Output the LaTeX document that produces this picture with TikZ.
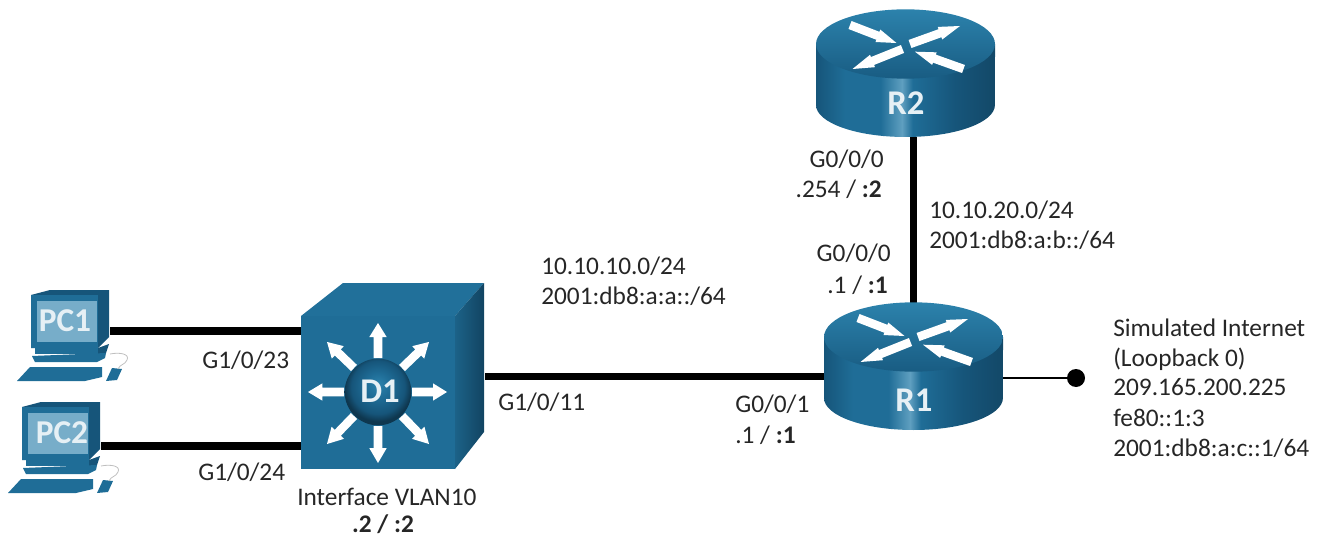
\documentclass[tikz,border=0pt]{standalone}
\usepackage{fontspec}
\setmainfont{Carlito}
\usetikzlibrary{calc}
\definecolor{devdark}{HTML}{16557A}
\definecolor{devmid}{HTML}{1F6D97}
\definecolor{devlite}{HTML}{2C82AC}
\definecolor{devhi}{HTML}{5F9FC0}
\definecolor{txt}{HTML}{262626}
\pgfdeclarehorizontalshading{cylside}{100bp}{
  color(0bp)=(devdark);color(25bp)=(devdark);color(33bp)=(devmid);color(43bp)=(devmid);
  color(49bp)=(devhi);color(52bp)=(devmid);color(64bp)=(devdark);color(75bp)=(devdark!85!black);color(100bp)=(devdark!85!black)}
\pgfdeclareradialshading{ballshade}{\pgfpoint{0bp}{6bp}}{
  color(0bp)=(devlite);color(9bp)=(devmid);color(20bp)=(devdark);color(25bp)=(devdark!65!black);color(50bp)=(devdark!65!black)}
\tikzset{
  x=.75pt,y=-.75pt,
  lbl/.style={font=\fontsize{19pt}{22pt}\selectfont,text=txt,inner sep=0pt,anchor=west,text height=12pt,text depth=0pt},
  lblr/.style={lbl,anchor=east},
  devlabel/.style={font=\fontsize{26pt}{30pt}\selectfont\bfseries,text=white!88!devlite,inner sep=0pt},
  pclabel/.style={devlabel,font=\fontsize{25pt}{30pt}\selectfont\bfseries},
  box/.style={inner sep=0pt,outer sep=0pt,minimum width=#1},
  thick link/.style={line width=5.5pt,black},
  thin link/.style={line width=1.9pt,black},
}
% tail x,y ; tip x,y ; half tail width ; half head width
\newcommand{\whitearrow}[6]{%
  \fill[white] ($(#1,#2)!#5pt!90:(#3,#4)$) -- ($(#1,#2)!.6!(#3,#4)!#5pt!90:(#3,#4)$)
    -- ($(#1,#2)!.6!(#3,#4)!#6pt!90:(#3,#4)$) -- (#3,#4)
    -- ($(#1,#2)!.6!(#3,#4)!#6pt!-90:(#3,#4)$) -- ($(#1,#2)!.6!(#3,#4)!#5pt!-90:(#3,#4)$)
    -- ($(#1,#2)!#5pt!-90:(#3,#4)$) -- cycle;}
\newcommand{\routerbody}[2]{%
  \begin{scope}[shift={(#1,#2)}]
    \shade[shading=cylside] (-89.5,0) -- (-89.5,61) arc[start angle=180,end angle=360,x radius=67.1pt,y radius=24pt] -- (89.5,0) -- cycle;
    \shade[top color=devlite,bottom color=devdark!70!devmid] (0,0) ellipse[x radius=67.1pt,y radius=26pt];
    \whitearrow{-55.5}{-19}{-9}{-1}{3.2}{5}
    \whitearrow{4.5}{0}{54.5}{-18}{3.2}{5}
    \whitearrow{-3}{5}{-53}{25}{3.2}{5}
    \whitearrow{58}{25}{9.5}{7.7}{3.2}{5}
  \end{scope}}
\newcommand{\pcbody}[2]{%
  \begin{scope}[shift={(#1,#2)}]
    % monitor
    \fill[devdark] (31,295) -- (50,290) -- (109,290) -- (109,337) -- (98,348) -- (31,348) -- cycle;
    \fill[devmid] (31,295) -- (98,295) -- (98,348) -- (31,348) -- cycle;
    \fill[devhi!85!white] (37,301) -- (97,301) -- (97,342) -- (37,342) -- cycle;
    % stand
    \fill[devmid] (35,348) -- (98,348) -- (98,354) -- (35,354) -- cycle;
    \fill[devdark] (98,348) -- (109,344) -- (106,353) -- (98,354) -- cycle;
    \fill[devmid] (32,356) -- (106,353) -- (105,358) -- (97,362) -- (35,362) -- cycle;
    % keyboard
    \fill[devmid] (30,367) -- (102,367) -- (102,377) -- (85,381) -- (17,381) -- cycle;
    % mouse
    \fill[devmid] (112,368) -- (122,369) -- (117,380) -- (106,381) -- cycle;
    % cord
    \draw[black!25,line width=.6pt] (110,354) .. controls (120,352) and (130,354) .. (127,360) .. controls (125,365) and (120,364) .. (118,369);
  \end{scope}}
\begin{document}
\begin{tikzpicture}
\useasboundingbox (0,0) rectangle (1320,538);
% named device boxes
\path (64,331) node[box=69pt,minimum height=75pt] (PC1) {};
\path (55,446) node[box=69pt,minimum height=75pt] (PC2) {};
\path (393,376.5) node[box=138pt,minimum height=140pt] (D1) {};
\path (913.5,366) node[box=134.25pt,minimum height=96pt] (R1) {};
\path (905.5,73) node[box=134.25pt,minimum height=96pt] (R2) {};
\path (1076,378) node[circle,fill=black,inner sep=0pt,minimum size=13.5pt] (LB) {};
% connectors
\draw[thick link] (PC1.east) -- (PC1.east -| D1.west);
\draw[thick link] (PC2.east) -- (PC2.east -| D1.west);
\draw[thick link] (D1.east) -- (D1.east -| R1.west);
\draw[thick link] ([yshift=-6pt]R1.north) -- (R1.north |- R2.south);
\draw[thin link] (R1.east |- LB.west) -- (LB.west);
% PCs
\pcbody{0}{0}
\pcbody{-9}{112}
% D1 multilayer switch
\fill[devmid!85!devlite] (301,316) -- (343,283) -- (484,283) -- (455,316) -- cycle;
\shade[left color=devmid!90!black,right color=devdark!80!black] (455,316) -- (484,283) -- (484,432) -- (455,469) -- cycle;
\fill[devmid] (301,316) rectangle (455,469);
\whitearrow{378}{358}{378}{323}{3.2}{6.5}
\whitearrow{378}{426}{378}{463}{3.2}{6.5}
\whitearrow{344}{392}{308}{392}{3.2}{6.5}
\whitearrow{412}{392}{447}{392}{3.2}{6.5}
\whitearrow{354}{368}{327}{342}{3.2}{6.5}
\whitearrow{402}{368}{429}{342}{3.2}{6.5}
\whitearrow{354}{416}{327}{444}{3.2}{6.5}
\whitearrow{402}{416}{429}{444}{3.2}{6.5}
\shade[shading=ballshade] (378,392) circle[radius=25pt];
\node[devlabel] (D1t) at (380,391) {D1};
% routers
\routerbody{913.5}{337}
\routerbody{905.5}{44}
\node[devlabel] (R1t) at (914,400) {R1};
\node[devlabel] (R2t) at (906,103) {R2};
% PC labels
\node[pclabel] (PC1t) at (65,321) {PC1};
\node[pclabel] (PC2t) at (62,433) {PC2};
% text
\node[lbl] (t1) at (541,266) {10.10.10.0/24};
\node[lbl] (t2) at (541,296) {2001:db8:a:a::/64};
\node[lbl] (t3) at (498,402) {G1/0/11};
\node[lbl] (t4) at (735,404) {G0/0/1};
\node[lbl] (t5) at (735,435) {.1 / \textbf{:1}};
\node[lbl] (t6) at (202,360) {G1/0/23};
\node[lbl] (t7) at (198,472) {G1/0/24};
\node[lbl] (t8) at (297,497) {Interface VLAN10};
\node[lbl,anchor=center] (t9) at (383,524) {\textbf{.2 / :2}};
\node[lblr] (t10) at (884,160) {G0/0/0};
\node[lblr] (t11) at (882,190) {.254 / \textbf{:2}};
\node[lbl] (t12) at (929,211) {10.10.20.0/24};
\node[lbl] (t13) at (929,240) {2001:db8:a:b::/64};
\node[lblr] (t14) at (891,254) {G0/0/0};
\node[lblr] (t15) at (888,285) {.1 / \textbf{:1}};
\node[lbl] (t16) at (1113,328) {Simulated Internet};
\node[lbl] (t17) at (1113,358) {(Loopback 0)};
\node[lbl] (t18) at (1113,387) {209.165.200.225};
\node[lbl] (t19) at (1113,418) {fe80::1:3};
\node[lbl] (t20) at (1113,448) {2001:db8:a:c::1/64};
\end{tikzpicture}
\end{document}
